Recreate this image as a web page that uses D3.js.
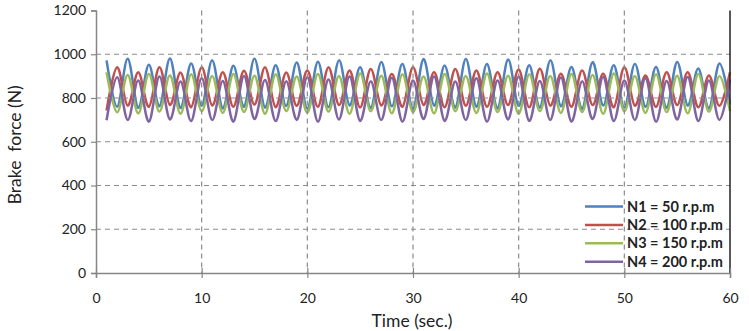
<html>
<head>
<meta charset="utf-8">
<title>Brake force</title>
<style>
  body{margin:0;background:#fff;}
  svg text{font-family:Lato,"Open Sans",sans-serif;fill:#222;}
</style>
<script src="https://d3js.org/d3.v7.min.js"></script>
</head>
<body>
<script>
// time samples (sec.)
var time = d3.range(1, 61);

var seriesNames = ["N1 = 50 r.p.m", "N2 = 100 r.p.m", "N3 = 150 r.p.m", "N4 = 200 r.p.m"];
var colors = ["#4F81BD", "#C0504D", "#9BBB59", "#8064A2"];

var n1 = [972,760,979,755,952,762,981,754,958,765,972,752,947,760,980,756,950,764,962,752,
          966,758,972,766,941,754,964,762,955,750,978,765,948,756,978,760,955,752,976,764,
          950,756,972,762,942,750,964,766,950,756,956,760,942,754,965,765,935,752,958,770];
var n2 = [743,941,765,918,760,941,768,916,758,940,766,918,760,925,770,940,758,917,765,926,
          760,940,768,926,757,933,766,910,760,941,768,918,758,933,765,926,760,918,768,930,
          758,934,765,911,760,926,768,911,758,941,765,903,760,918,768,918,758,903,765,918];
var n3 = [918,735,905,730,910,738,903,728,908,740,900,732,910,736,902,728,908,740,898,733,
          910,738,900,728,912,740,902,730,908,736,898,730,910,740,900,732,912,736,902,728,
          908,740,900,732,910,736,905,728,912,740,900,732,908,736,902,730,910,738,900,740];
var n4 = [698,895,700,880,692,898,702,875,695,890,700,878,692,900,704,882,695,876,700,895,
          692,885,702,898,695,876,700,892,692,880,704,898,695,875,700,890,692,880,702,898,
          695,878,700,894,692,876,704,896,695,880,700,890,692,878,702,896,695,880,700,885];

var xTicks = [0, 10, 20, 30, 40, 50, 60];
var yTicks = [0, 200, 400, 600, 800, 1000, 1200];

var width = 749, height = 331;
var pL = 96, pR = 730, pT = 10.5, pB = 273;

var svg = d3.select("body").append("svg")
            .attr("width", width)
            .attr("height", height);

var x = d3.scaleLinear().domain([0, 60]).range([pL, pR]);
var y = d3.scaleLinear().domain([0, 1200]).range([pB, pT]);

var data = [n1, n2, n3, n4].map(function(vals, i){
  return {name: seriesNames[i], color: colors[i],
          values: vals.map(function(v, j){ return {t: time[j], v: v}; })};
});

var line = d3.line()
             .x(d=>x(d.t))
             .y(d=>y(d.v))
             .curve(d3.curveCardinal);

// series
svg.append("g").selectAll("path")
   .data(data)
   .enter()
   .append("path")
   .attr("d", d=>line(d.values))
   .attr("fill", "none")
   .attr("stroke", d=>d.color)
   .attr("stroke-width", 2.5);

// gridlines (drawn on top, like the reference)
var grid = svg.append("g").attr("stroke", "#8c8c8c").attr("stroke-width", 1.2)
              .attr("stroke-dasharray", "5,4").attr("fill", "none");
grid.selectAll(".hg")
    .data(yTicks.filter(d=>d > 0 && d < 1200))
    .enter().append("line")
    .attr("x1", pL).attr("x2", pR)
    .attr("y1", d=>y(d)).attr("y2", d=>y(d));
grid.selectAll(".vg")
    .data(xTicks.filter(d=>d > 0 && d < 60))
    .enter().append("line")
    .attr("y1", pT).attr("y2", pB)
    .attr("x1", d=>x(d)).attr("x2", d=>x(d));

// right border
svg.append("line")
   .attr("x1", pR).attr("x2", pR)
   .attr("y1", pT).attr("y2", pB)
   .attr("stroke", "#222").attr("stroke-width", 1.5);

// y axis
var yAxis = svg.append("g")
   .attr("transform", "translate(" + pL + ",0)")
   .call(d3.axisLeft(y).tickValues(yTicks).tickFormat(d3.format("d")).tickSize(5).tickPadding(5));
// x axis
var xAxis = svg.append("g")
   .attr("transform", "translate(0," + pB + ")")
   .call(d3.axisBottom(x).tickValues(xTicks).tickSize(5).tickPadding(15));
xAxis.selectAll(".tick line").attr("y1", -5);

[yAxis, xAxis].forEach(function(a){
  a.select(".domain").attr("stroke", "#868686").attr("stroke-width", 1.5);
  a.selectAll(".tick line").attr("stroke", "#868686").attr("stroke-width", 1.2);
  a.selectAll(".tick text").style("font-size", "14px").attr("fill", "#222");
});

// axis titles
svg.append("text")
   .attr("x", (pL + pR) / 2 - 1)
   .attr("y", 327)
   .attr("text-anchor", "middle")
   .style("font-size", "17.5px")
   .text("Time (sec.)");

svg.append("text")
   .attr("transform", "translate(21," + ((pT + pB) / 2 + 3) + ") rotate(-90)")
   .attr("text-anchor", "middle")
   .style("font-size", "17.5px")
   .style("white-space", "pre")
   .text("Brake  force (N)");

// legend
var legend = svg.append("g").selectAll("g")
   .data(data)
   .enter()
   .append("g")
   .attr("transform", (d,i)=>"translate(585," + (206.5 + 18.4 * i) + ")");
legend.append("line")
   .attr("x1", 0).attr("x2", 38)
   .attr("stroke", d=>d.color)
   .attr("stroke-width", 2.5);
legend.append("text")
   .attr("x", 42)
   .attr("dy", "0.35em")
   .style("font-size", "14.5px")
   .style("font-weight", "bold")
   .text(d=>d.name);
</script>
</body>
</html>
